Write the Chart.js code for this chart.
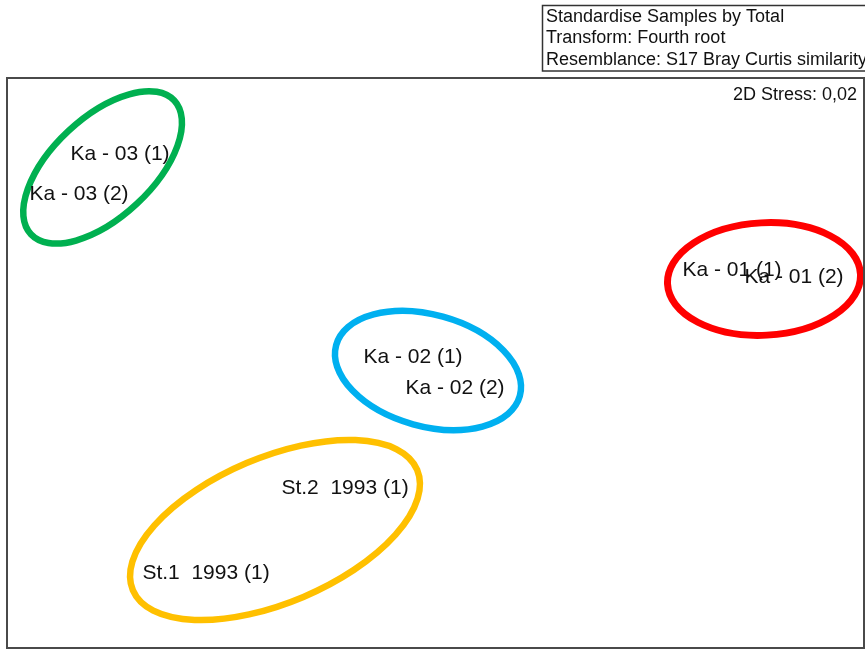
<!DOCTYPE html>
<html>
<head>
<meta charset="utf-8">
<title>nMDS ordination</title>
<script src="https://cdn.jsdelivr.net/npm/chart.js@4/dist/chart.umd.min.js"></script>
<style>
  html, body { margin: 0; padding: 0; background: #ffffff; }
  #wrap { position: relative; width: 865px; height: 650px; }
  canvas { display: block; }
</style>
</head>
<body>
<div id="wrap"><canvas id="mds" width="865" height="650"></canvas></div>
<script>
// Sample names and their 2D nMDS coordinates
const sampleLabels = [
  'Ka - 03 (1)', 'Ka - 03 (2)',
  'Ka - 01 (1)', 'Ka - 01 (2)',
  'Ka - 02 (1)', 'Ka - 02 (2)',
  'St.2  1993 (1)', 'St.1  1993 (1)'
];
const mdsX = [-1.58, -1.785, 1.48, 1.79, -0.115, 0.095, -0.455, -1.15];
const mdsY = [1.045, 0.845, 0.465, 0.43, 0.03, -0.125, -0.625, -1.05];

// Group outlines (ellipses in ordination units, angle in degrees anticlockwise)
const groupNames     = ['Ka - 03', 'Ka - 01', 'Ka - 02', '1993'];
const groupCentreX   = [-1.667, 1.64, -0.04, -0.805];
const groupCentreY   = [0.978, 0.42, -0.0375, -0.835];
const groupSemiMajor = [0.49, 0.483, 0.4765, 0.772];
const groupSemiMinor = [0.25, 0.281, 0.279, 0.3635];
const groupAngle     = [43, 3, -15.5, 23];
const groupColours   = ['#00B050', '#FF0000', '#00B0F0', '#FFC000'];

// Header notes
const headerLines = [
  'Standardise Samples by Total',
  'Transform: Fourth root',
  'Resemblance: S17 Bray Curtis similarity'
];
const stressText = '2D Stress: 0,02';

const FONT = '"Liberation Sans", Arial, "DejaVu Sans", sans-serif';

const ordinationPlugin = {
  id: 'ordination',
  beforeDatasetsDraw(chart) {
    const { ctx, chartArea: a, scales: { x, y } } = chart;
    const pxX = Math.abs(x.getPixelForValue(1) - x.getPixelForValue(0));
    const pxY = Math.abs(y.getPixelForValue(1) - y.getPixelForValue(0));
    ctx.save();
    ctx.beginPath();
    ctx.rect(a.left, a.top, a.right - a.left, a.bottom - a.top);
    ctx.clip();
    groupNames.forEach((g, i) => {
      ctx.beginPath();
      ctx.ellipse(
        x.getPixelForValue(groupCentreX[i]),
        y.getPixelForValue(groupCentreY[i]),
        groupSemiMajor[i] * pxX,
        groupSemiMinor[i] * pxY,
        -groupAngle[i] * Math.PI / 180,
        0, Math.PI * 2
      );
      ctx.lineWidth = i === 1 ? 7 : 6.5;
      ctx.strokeStyle = groupColours[i];
      ctx.stroke();
    });
    ctx.restore();
  },
  afterDatasetsDraw(chart) {
    const { ctx, chartArea: a } = chart;
    const meta = chart.getDatasetMeta(0);
    ctx.save();
    // sample labels centred on their points
    ctx.font = '21px ' + FONT;
    ctx.fillStyle = '#111111';
    ctx.textAlign = 'center';
    ctx.textBaseline = 'middle';
    meta.data.forEach((pt, i) => {
      ctx.fillText(sampleLabels[i], pt.x, pt.y);
    });
    // plot frame
    ctx.strokeStyle = '#4a4a4a';
    ctx.lineWidth = 2;
    ctx.strokeRect(a.left - 1, a.top, a.right - a.left + 1, a.bottom - a.top);
    // stress value
    ctx.font = '18px ' + FONT;
    ctx.textAlign = 'right';
    ctx.textBaseline = 'middle';
    ctx.fillText(stressText, a.right - 7, a.top + 17);
    // header box
    ctx.lineWidth = 1.5;
    ctx.strokeStyle = '#333333';
    ctx.strokeRect(542.5, 5.5, 330, 65.5);
    ctx.textAlign = 'left';
    headerLines.forEach((t, i) => ctx.fillText(t, 546, 17 + i * 21.5));
    ctx.restore();
  }
};

new Chart(document.getElementById('mds'), {
  type: 'scatter',
  data: {
    datasets: [{
      label: 'Samples',
      data: mdsX.map((v, i) => ({ x: v, y: mdsY[i] })),
      pointRadius: 0,
      pointHoverRadius: 0
    }]
  },
  options: {
    responsive: false,
    animation: false,
    devicePixelRatio: 1,
    layout: { padding: { left: 8, right: 1, top: 78, bottom: 2 } },
    plugins: { legend: { display: false }, tooltip: { enabled: false } },
    scales: {
      x: { type: 'linear', display: false, min: -2.14, max: 2.14 },
      y: { type: 'linear', display: false, min: -1.425, max: 1.425 }
    }
  },
  plugins: [ordinationPlugin]
});
</script>
</body>
</html>
